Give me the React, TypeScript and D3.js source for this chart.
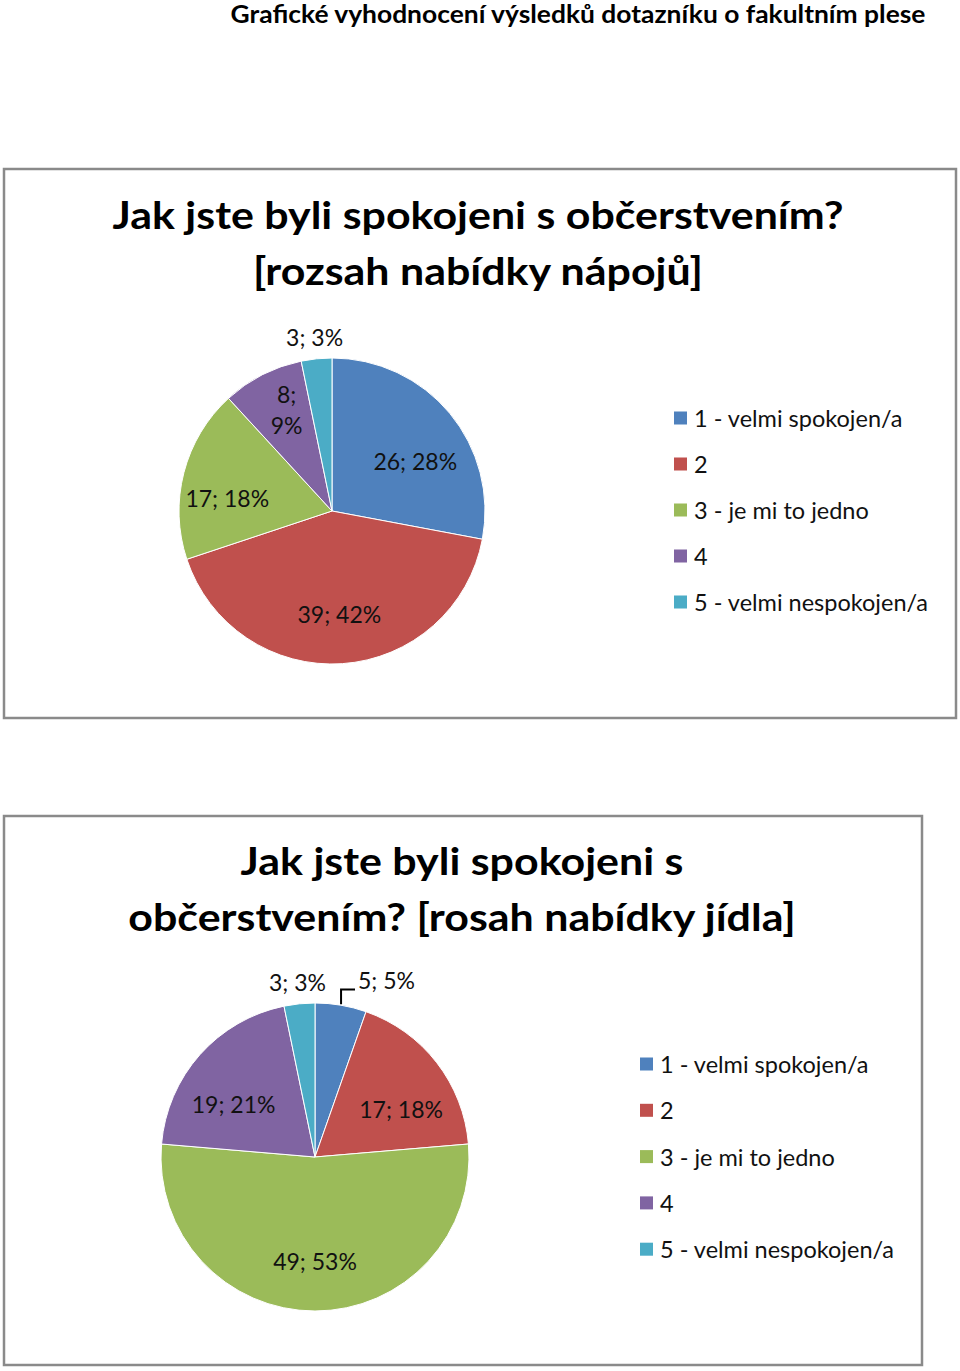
import React from 'react';
import * as d3 from 'd3';

const categories = ['1 - velmi spokojen/a', '2', '3 - je mi to jedno', '4', '5 - velmi nespokojen/a'];
const sliceColors = ['#4F81BD', '#C0504D', '#9BBB59', '#8064A2', '#4BACC6'];
const drinksValues = [26, 39, 17, 8, 3];
const drinksPercents = [28, 42, 18, 9, 3];
const foodValues = [5, 17, 49, 19, 3];
const foodPercents = [5, 18, 53, 21, 3];
const headerTitle = 'Grafické vyhodnocení výsledků dotazníku o fakultním plese';
const drinksTitle = ['Jak jste byli spokojeni s občerstvením?', '[rozsah nabídky nápojů]'];
const foodTitle = ['Jak jste byli spokojeni s', 'občerstvením? [rosah nabídky jídla]'];

const FONT = 'Lato, Carlito, "Open Sans", sans-serif';
const LABEL_SIZE = 23;
const LEGEND_SIZE = 23.5;

let ctx: CanvasRenderingContext2D | null = null;
function measure(text: string, size: number, weight = 'normal') {
  if (!ctx) ctx = document.createElement('canvas').getContext('2d');
  if (!ctx) return text.length * size * 0.5;
  ctx.font = `${weight} ${size}px Lato`;
  return ctx.measureText(text).width;
}

type PieProps = {
  frame: { x: number; y: number; w: number; h: number };
  title: string[];
  titleX: number;
  titleY: number;
  titleGap: number;
  cx: number;
  cy: number;
  r: number;
  values: number[];
  percents: number[];
  legendX: number;
  legendY: number;
  legendGap: number;
};

function PieChart(p: PieProps) {
  const pie = d3.pie<number>().sort(null).value((d) => d);
  const arcs = pie(p.values);
  const arc = d3.arc<d3.PieArcDatum<number>>().innerRadius(0).outerRadius(p.r);
  const labelArc = d3.arc<d3.PieArcDatum<number>>().innerRadius(p.r * 0.68).outerRadius(p.r * 0.68);

  type Lab = { i: number; lines: string[]; x: number; y: number; outside: boolean; w: number; leader?: string };
  const labels: Lab[] = arcs.map((a, i) => {
    const v = p.values[i];
    const txt = `${v}; ${p.percents[i]}%`;
    const span = a.endAngle - a.startAngle;
    const mid = (a.startAngle + a.endAngle) / 2;
    if (span < 0.4) {
      const rr = p.r + 19;
      return { i, lines: [txt], x: Math.sin(mid) * rr, y: -Math.cos(mid) * rr - 3, outside: true, w: measure(txt, LABEL_SIZE) };
    }
    const [x, y] = labelArc.centroid(a);
    if (span < 0.6) {
      const parts = txt.split(' ');
      return { i, lines: parts, x: x + 2, y: y - 9, outside: false, w: 0 };
    }
    return { i, lines: [txt], x: x * 1.04, y: y * 0.9 + 10, outside: false, w: 0 };
  });

  // resolve overlaps among outside labels
  const outs = labels.filter((l) => l.outside).sort((a, b) => a.x - b.x);
  for (let k = 1; k < outs.length; k++) {
    const prev = outs[k - 1];
    const cur = outs[k];
    const minLeft = prev.x + prev.w / 2 + 32;
    if (cur.x - cur.w / 2 < minLeft) {
      const a = arcs[cur.i];
      const mid = (a.startAngle + a.endAngle) / 2;
      const ex = Math.sin(mid) * (p.r + 1);
      const ey = -Math.cos(mid) * (p.r + 1);
      cur.x = minLeft + cur.w / 2;
      cur.y -= 3;
      const ly = cur.y + 9;
      cur.leader = `M${ex},${ey}V${ly}H${cur.x - cur.w / 2 - 3}`;
    }
  }

  return (
    <g>
      <rect x={p.frame.x} y={p.frame.y} width={p.frame.w} height={p.frame.h} fill="#fff" stroke="#8a8a8a" strokeWidth={2.5} />
      {p.title.map((t, i) => (
        <text
          key={i}
          transform={`translate(${p.titleX},${p.titleY + i * p.titleGap}) scale(1.13,1)`}
          textAnchor="middle"
          fontFamily={FONT}
          fontWeight="bold"
          fontSize={38}
          fill="#000"
        >
          {t}
        </text>
      ))}
      <g transform={`translate(${p.cx},${p.cy})`}>
        {arcs.map((a, i) => (
          <path key={i} d={arc(a) || ''} fill={sliceColors[i]} stroke="#fff" strokeWidth={1} />
        ))}
        {labels.map((l) => (
          <g key={l.i}>
            {l.leader && <path d={l.leader} fill="none" stroke="#000" strokeWidth={2} />}
            {l.lines.map((ln, j) => (
              <text
                key={j}
                x={l.x}
                y={l.y + (j - (l.lines.length - 1) / 2) * 31}
                textAnchor="middle"
                dominantBaseline="central"
                fontFamily={FONT}
                fontSize={LABEL_SIZE}
                fill="#111"
              >
                {ln}
              </text>
            ))}
          </g>
        ))}
      </g>
      {categories.map((c, i) => (
        <g key={c} transform={`translate(${p.legendX},${p.legendY + i * p.legendGap})`}>
          <rect x={0} y={-6.5} width={13} height={13} fill={sliceColors[i]} />
          <text x={20} y={0} dominantBaseline="central" fontFamily={FONT} fontSize={LEGEND_SIZE} fill="#111">
            {c}
          </text>
        </g>
      ))}
    </g>
  );
}

export default function App() {
  return (
    <svg width={960} height={1371} style={{ position: 'absolute', left: 0, top: 0, background: '#fff' }}>
      <rect width={960} height={1371} fill="#fff" />
      <text
        transform="translate(578,23) scale(1.1,1)"
        textAnchor="middle"
        fontFamily={FONT}
        fontWeight="bold"
        fontSize={24}
        fill="#000"
      >
        {headerTitle}
      </text>
      <PieChart
        frame={{ x: 4, y: 169, w: 952, h: 549 }}
        title={drinksTitle}
        titleX={478}
        titleY={229}
        titleGap={56}
        cx={332}
        cy={511}
        r={153}
        values={drinksValues}
        percents={drinksPercents}
        legendX={674}
        legendY={418}
        legendGap={46}
      />
      <PieChart
        frame={{ x: 4, y: 816, w: 918, h: 549 }}
        title={foodTitle}
        titleX={462}
        titleY={875}
        titleGap={56}
        cx={315}
        cy={1157}
        r={154}
        values={foodValues}
        percents={foodPercents}
        legendX={640}
        legendY={1064}
        legendGap={46.3}
      />
    </svg>
  );
}
